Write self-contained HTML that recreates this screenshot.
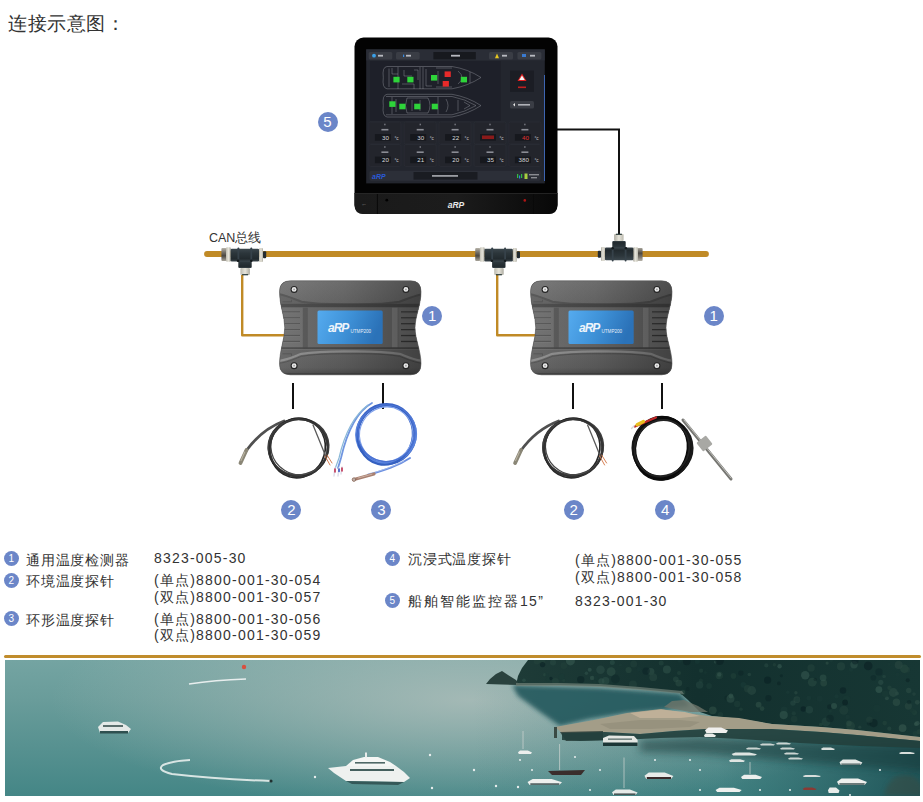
<!DOCTYPE html>
<html><head><meta charset="utf-8">
<style>
html,body{margin:0;padding:0;background:#fff;}
body{width:923px;height:802px;overflow:hidden;position:relative;font-family:"Liberation Sans",sans-serif;color:#333;}
.abs{position:absolute;}
.title{left:8px;top:11px;font-size:19px;color:#333;white-space:nowrap;letter-spacing:0.5px;}
.num{position:absolute;width:20px;height:20px;border-radius:50%;background:#6b86c8;color:#fff;font-size:15px;line-height:20px;text-align:center;}
.lg{position:absolute;font-size:14px;color:#333;white-space:nowrap;line-height:17px;}
.cj{letter-spacing:0.8px;}
.dg{letter-spacing:1.2px;}
.ln{position:absolute;width:15px;height:15px;border-radius:50%;background:#6b86c8;color:#fff;font-size:10px;line-height:15px;text-align:center;}
</style></head><body>
<div class="abs title">连接示意图：</div>

<!-- diagram svg -->
<svg class="abs" style="left:0;top:0" width="923" height="660" viewBox="0 0 923 660">
  <!-- monitor link -->
  <polyline points="557,129.5 619,129.5 619,236" fill="none" stroke="#111" stroke-width="2"/>
  <!-- bus -->
  <line x1="207" y1="254" x2="706" y2="254" stroke="#c08a26" stroke-width="5.8" stroke-linecap="round"/>
  <!-- gold drops -->
  <polyline points="242.2,272 242.2,335.3 287,335.3" fill="none" stroke="#c08a26" stroke-width="2.4" stroke-linejoin="round"/>
  <polyline points="497.2,272 497.2,335.3 538,335.3" fill="none" stroke="#c08a26" stroke-width="2.4" stroke-linejoin="round"/>
  <defs>
    <linearGradient id="tbody" x1="0" y1="0" x2="0" y2="1">
      <stop offset="0" stop-color="#3c474d"/><stop offset="0.35" stop-color="#2c363b"/><stop offset="0.8" stop-color="#222a2e"/><stop offset="1" stop-color="#39444a"/>
    </linearGradient>
    <linearGradient id="tring" x1="0" y1="0" x2="1" y2="0">
      <stop offset="0" stop-color="#bdbbb0"/><stop offset="0.5" stop-color="#e6e4da"/><stop offset="1" stop-color="#aeaca2"/>
    </linearGradient>
    <linearGradient id="tnut" x1="0" y1="0" x2="0" y2="1">
      <stop offset="0" stop-color="#b8b4aa"/><stop offset="0.3" stop-color="#7a766e"/><stop offset="0.6" stop-color="#4a4640"/><stop offset="1" stop-color="#a8a49a"/>
    </linearGradient>
    <g id="tconn">
      <rect x="-23.7" y="-6.5" width="5" height="13" rx="1" fill="url(#tnut)"/>
      <rect x="-19.1" y="-7.2" width="4.9" height="14.5" rx="1.2" fill="url(#tring)"/>
      <rect x="-6.8" y="5" width="13.4" height="8.6" rx="1" fill="url(#tbody)"/>
      <rect x="-14.5" y="-5.8" width="28.5" height="12.7" rx="1.2" fill="url(#tbody)"/>
      <rect x="-7.6" y="-7" width="1.8" height="14" rx="0.8" fill="#36424a"/>
      <rect x="5.3" y="-7" width="1.8" height="14" rx="0.8" fill="#36424a"/>
      <circle cx="-7" cy="6.2" r="1.3" fill="#141a1d"/>
      <circle cx="6.2" cy="6.2" r="1.3" fill="#141a1d"/>
      <rect x="-4.7" y="13.6" width="9.5" height="7" rx="1" fill="url(#tring)"/>
      <rect x="-3" y="19.6" width="6" height="1.2" fill="#2a3a38"/>
      <rect x="14" y="-6.5" width="3.9" height="14" rx="1" fill="url(#tring)"/>
      <rect x="17.9" y="-3.3" width="3.2" height="7" rx="1" fill="#232b30"/>
    </g>
  </defs>
  <use href="#tconn" x="245.1" y="254.5"/>
  <use href="#tconn" x="498.9" y="254.5"/>
  <use href="#tconn" transform="translate(618.9 254.5) rotate(180)"/>
  <!-- black short lines -->
  <line x1="293" y1="383" x2="293" y2="409" stroke="#111" stroke-width="2"/>
  <line x1="383" y1="383" x2="383" y2="409" stroke="#111" stroke-width="2"/>
  <line x1="573" y1="383" x2="573" y2="409" stroke="#111" stroke-width="2"/>
  <line x1="662" y1="383" x2="662" y2="409" stroke="#111" stroke-width="2"/>
</svg>

<!-- monitor -->
<svg class="abs" style="left:350px;top:33px" width="212" height="185" viewBox="350 33 212 185">
  <defs>
    <linearGradient id="bez" x1="0" y1="0" x2="1" y2="0">
      <stop offset="0" stop-color="#1a1a1a"/><stop offset="0.5" stop-color="#1c1c1c"/><stop offset="1" stop-color="#080808"/>
    </linearGradient>
  </defs>
  <rect x="354.5" y="37.5" width="203" height="176.5" rx="9" fill="#030303"/>
  <path d="M354.5,193 L557.5,193 L557.5,205 Q557.5,214 548.5,214 L363.5,214 Q354.5,214 354.5,205 Z" fill="url(#bez)"/>
  <line x1="354.5" y1="193.5" x2="557.5" y2="193.5" stroke="#2a2a2a" stroke-width="0.8"/>
  <line x1="377.4" y1="194" x2="377.4" y2="214" stroke="#050505" stroke-width="0.8"/>
  <line x1="533.5" y1="194" x2="533.5" y2="214" stroke="#070707" stroke-width="0.6"/>
  <circle cx="386.8" cy="200.2" r="1.4" fill="#000"/>
  <circle cx="524.8" cy="200.4" r="1.3" fill="#b01414"/>
  <text x="362" y="206" font-size="5" fill="#555" font-family="Liberation Sans">⭠</text>
  <text x="456" y="207.5" font-size="8.5" font-style="italic" font-weight="bold" fill="#e8e8e8" text-anchor="middle" font-family="Liberation Sans">aRP</text>
  <!-- screen -->
  <rect x="366.2" y="49.4" width="178.6" height="134" fill="#23262e"/>
  <rect x="544" y="75" width="1" height="106" fill="#3d64b0"/>
  <!-- top bar -->
  <rect x="366.2" y="49.4" width="178.6" height="11" fill="#2a2d36"/>
  <rect x="368.7" y="52" width="23.6" height="7.4" rx="1.5" fill="#3a3d45"/>
  <circle cx="374" cy="55.7" r="1.9" fill="#3aa0e8"/>
  <rect x="378" y="54.8" width="5" height="1.8" fill="#b8bac0"/>
  <rect x="396" y="52" width="23.7" height="7.4" rx="1.5" fill="#3a3d45"/>
  <rect x="403" y="54.6" width="1.2" height="2.4" fill="#3a8ae0"/>
  <rect x="406" y="54.8" width="5" height="1.8" fill="#b8bac0"/>
  <rect x="433.4" y="52" width="42.4" height="7.4" fill="#17191e"/>
  <rect x="451" y="54.8" width="9" height="1.8" fill="#b8bac0"/>
  <rect x="489" y="52" width="24" height="7.4" rx="1.5" fill="#3a3d45"/>
  <polygon points="495,58.3 497,53.5 499,58.3" fill="#e8c820"/>
  <rect x="502" y="54.8" width="5" height="1.8" fill="#b8bac0"/>
  <rect x="517.4" y="52" width="24" height="7.4" rx="1.5" fill="#3a3d45"/>
  <rect x="522" y="54" width="4" height="3" fill="#3a7ad0"/>
  <rect x="530" y="54.8" width="5" height="1.8" fill="#b8bac0"/>
  <!-- ship plan area -->
  <rect x="370" y="61" width="130.7" height="60" fill="#1e2029"/>
  <g fill="none" stroke="#b4b8c0" stroke-width="0.38" opacity="0.9">
    <path d="M387,66.5 L452,66.5 Q468,69 481,77.5 Q468,86 452,88.8 L387,88.8 Q382,88 383.3,77.5 Q382,67 387,66.5 Z"/>
    <path d="M389,68.5 L389,87 M392,68 L392,74 L398,74 M398,67 L398,89 M404,70 L404,76 L412,76 M402,84 L414,84 L414,89 M420,67 L420,89 M423,67 L423,89 M426,69 L426,86 L432,86 M436,68 L452,68 M436,87 L452,87 M438,71 L438,84 M458,71 Q466,77.5 458,84 M470,72 L470,83 M414,70 L418,70 L418,80"/>
    <path d="M387,94.3 L452,94.3 Q468,97 481,105.6 Q468,114 452,117 L387,117 Q382,116 383.3,105.6 Q382,95 387,94.3 Z"/>
    <path d="M386,96.5 L452,96.5 Q465,99 476,105.6 Q465,112 452,114.8 L386,114.8 M392,97 L392,114 M396,99 L396,112 M407,98 L428,98 Q432,105.6 428,113 L407,113 Q404,105.6 407,98 Z M412,100 L412,111 M420,100 L420,111 M438,97 L438,114 M446,99 Q450,105.6 446,112 M458,100 L458,111 M464,102 L470,105.6 L464,109"/>
  </g>
  <g fill="#2ed43a">
    <rect x="393.4" y="76.8" width="6.2" height="5.6"/>
    <rect x="407.3" y="76.8" width="6.2" height="5.6"/>
    <rect x="431" y="75" width="6.2" height="5.6"/>
    <rect x="460.8" y="76.8" width="6.2" height="5.6"/>
    <rect x="389.3" y="101.3" width="6.2" height="5.6"/>
    <rect x="399.3" y="103.7" width="6.2" height="5.6"/>
    <rect x="414.2" y="103.7" width="6.2" height="5.6"/>
    <rect x="431.7" y="103.7" width="6.2" height="5.6"/>
  </g>
  <g fill="#e82a2a">
    <rect x="444.6" y="71.4" width="6.2" height="5.6"/>
    <rect x="442.7" y="81" width="6.2" height="5.6"/>
  </g>
  <!-- right panel -->
  <rect x="510" y="70.6" width="24" height="21.2" fill="#1b1d24"/>
  <polygon points="522,73.5 526.5,81 517.5,81" fill="#e02020"/>
  <polygon points="522,75.5 524.8,80 519.2,80" fill="#f4f4f4"/>
  <rect x="518" y="86.5" width="8" height="1.6" fill="#c02020"/>
  <rect x="510" y="101" width="24" height="7.5" rx="1.5" fill="#3a3d45"/>
  <polygon points="513,104.7 515,103 515,106.5" fill="#e8e8e8"/>
  <rect x="518" y="104" width="12" height="1.6" fill="#b0b2b8"/>
  <!-- data cells -->
  <rect x="368.9" y="122.0" width="32" height="22" rx="1.5" fill="#23252c" stroke="#2e3038" stroke-width="0.5"/><rect x="384.4" y="123.7" width="1" height="1.6" fill="#9a9ca4"/><rect x="381.4" y="128.9" width="7" height="1.6" fill="#8a8c94"/><rect x="374.9" y="134.1" width="16" height="6.6" fill="#16181d"/><text x="388.9" y="139.9" font-size="6.2" fill="#d8d8dc" text-anchor="end" font-family="Liberation Sans">30</text><text x="394.4" y="139.7" font-size="4.6" fill="#c8c8cc" font-family="Liberation Sans">°c</text><rect x="404.2" y="122.0" width="32" height="22" rx="1.5" fill="#23252c" stroke="#2e3038" stroke-width="0.5"/><rect x="419.7" y="123.7" width="1" height="1.6" fill="#9a9ca4"/><rect x="416.7" y="128.9" width="7" height="1.6" fill="#8a8c94"/><rect x="410.2" y="134.1" width="16" height="6.6" fill="#16181d"/><text x="424.2" y="139.9" font-size="6.2" fill="#d8d8dc" text-anchor="end" font-family="Liberation Sans">30</text><text x="429.7" y="139.7" font-size="4.6" fill="#c8c8cc" font-family="Liberation Sans">°c</text><rect x="439.1" y="122.0" width="32" height="22" rx="1.5" fill="#23252c" stroke="#2e3038" stroke-width="0.5"/><rect x="454.6" y="123.7" width="1" height="1.6" fill="#9a9ca4"/><rect x="451.6" y="128.9" width="7" height="1.6" fill="#8a8c94"/><rect x="445.1" y="134.1" width="16" height="6.6" fill="#16181d"/><text x="459.1" y="139.9" font-size="6.2" fill="#d8d8dc" text-anchor="end" font-family="Liberation Sans">22</text><text x="464.6" y="139.7" font-size="4.6" fill="#c8c8cc" font-family="Liberation Sans">°c</text><rect x="474.0" y="122.0" width="32" height="22" rx="1.5" fill="#23252c" stroke="#2e3038" stroke-width="0.5"/><rect x="489.5" y="123.7" width="1" height="1.6" fill="#9a9ca4"/><rect x="486.5" y="128.9" width="7" height="1.6" fill="#8a8c94"/><rect x="480.0" y="134.1" width="16" height="6.6" fill="#16181d"/><rect x="482.0" y="135.5" width="12" height="3.6" fill="#8a1a1a"/><text x="499.5" y="139.7" font-size="4.6" fill="#c8c8cc" font-family="Liberation Sans">°c</text><rect x="508.9" y="122.0" width="32" height="22" rx="1.5" fill="#23252c" stroke="#2e3038" stroke-width="0.5"/><rect x="524.4" y="123.7" width="1" height="1.6" fill="#9a9ca4"/><rect x="521.4" y="128.9" width="7" height="1.6" fill="#8a8c94"/><rect x="514.9" y="134.1" width="16" height="6.6" fill="#16181d"/><text x="528.9" y="139.9" font-size="6.2" fill="#e03030" text-anchor="end" font-family="Liberation Sans">40</text><text x="534.4" y="139.7" font-size="4.6" fill="#c8c8cc" font-family="Liberation Sans">°c</text><rect x="368.9" y="144.5" width="32" height="22" rx="1.5" fill="#23252c" stroke="#2e3038" stroke-width="0.5"/><rect x="384.4" y="146.2" width="1" height="1.6" fill="#9a9ca4"/><rect x="381.4" y="151.4" width="7" height="1.6" fill="#8a8c94"/><rect x="374.9" y="156.6" width="16" height="6.6" fill="#16181d"/><text x="388.9" y="162.4" font-size="6.2" fill="#d8d8dc" text-anchor="end" font-family="Liberation Sans">20</text><text x="394.4" y="162.2" font-size="4.6" fill="#c8c8cc" font-family="Liberation Sans">°c</text><rect x="404.2" y="144.5" width="32" height="22" rx="1.5" fill="#23252c" stroke="#2e3038" stroke-width="0.5"/><rect x="419.7" y="146.2" width="1" height="1.6" fill="#9a9ca4"/><rect x="416.7" y="151.4" width="7" height="1.6" fill="#8a8c94"/><rect x="410.2" y="156.6" width="16" height="6.6" fill="#16181d"/><text x="424.2" y="162.4" font-size="6.2" fill="#d8d8dc" text-anchor="end" font-family="Liberation Sans">21</text><text x="429.7" y="162.2" font-size="4.6" fill="#c8c8cc" font-family="Liberation Sans">°c</text><rect x="439.1" y="144.5" width="32" height="22" rx="1.5" fill="#23252c" stroke="#2e3038" stroke-width="0.5"/><rect x="454.6" y="146.2" width="1" height="1.6" fill="#9a9ca4"/><rect x="451.6" y="151.4" width="7" height="1.6" fill="#8a8c94"/><rect x="445.1" y="156.6" width="16" height="6.6" fill="#16181d"/><text x="459.1" y="162.4" font-size="6.2" fill="#d8d8dc" text-anchor="end" font-family="Liberation Sans">20</text><text x="464.6" y="162.2" font-size="4.6" fill="#c8c8cc" font-family="Liberation Sans">°c</text><rect x="474.0" y="144.5" width="32" height="22" rx="1.5" fill="#23252c" stroke="#2e3038" stroke-width="0.5"/><rect x="489.5" y="146.2" width="1" height="1.6" fill="#9a9ca4"/><rect x="486.5" y="151.4" width="7" height="1.6" fill="#8a8c94"/><rect x="480.0" y="156.6" width="16" height="6.6" fill="#16181d"/><text x="494.0" y="162.4" font-size="6.2" fill="#d8d8dc" text-anchor="end" font-family="Liberation Sans">35</text><text x="499.5" y="162.2" font-size="4.6" fill="#c8c8cc" font-family="Liberation Sans">°c</text><rect x="508.9" y="144.5" width="32" height="22" rx="1.5" fill="#23252c" stroke="#2e3038" stroke-width="0.5"/><rect x="524.4" y="146.2" width="1" height="1.6" fill="#9a9ca4"/><rect x="521.4" y="151.4" width="7" height="1.6" fill="#8a8c94"/><rect x="514.9" y="156.6" width="16" height="6.6" fill="#16181d"/><text x="528.9" y="162.4" font-size="6.2" fill="#d8d8dc" text-anchor="end" font-family="Liberation Sans">380</text><text x="534.4" y="162.2" font-size="4.6" fill="#c8c8cc" font-family="Liberation Sans">°c</text>
  <!-- bottom bar -->
  <rect x="369.4" y="170.8" width="171.2" height="10" rx="2" fill="#2c2f38"/>
  <text x="372" y="179" font-size="7" font-style="italic" font-weight="bold" fill="#2a5ad8" font-family="Liberation Sans">aRP</text>
  <rect x="413.5" y="172" width="64" height="7.6" fill="#1a1c22"/>
  <rect x="432" y="175" width="26" height="1.8" fill="#9a9ca2"/>
  <rect x="517" y="174" width="1.2" height="4" fill="#30c040"/>
  <rect x="519" y="175.5" width="1.2" height="3" fill="#3080e0"/>
  <rect x="521" y="174" width="1.2" height="4" fill="#30c040"/>
  <rect x="524.5" y="173.5" width="3" height="5.5" fill="#a8d040"/>
  <rect x="529" y="174" width="10" height="1.4" fill="#8a8c92"/>
  <rect x="531" y="177" width="6" height="1.4" fill="#8a8c92"/>
</svg>
<!-- modules -->
<svg class="abs" style="left:0;top:270px" width="923" height="115" viewBox="0 270 923 115">
  <defs>
    <linearGradient id="mtop" x1="0" y1="0" x2="0" y2="1">
      <stop offset="0" stop-color="#727272"/><stop offset="1" stop-color="#636363"/>
    </linearGradient>
    <linearGradient id="mbot" x1="0" y1="0" x2="0" y2="1">
      <stop offset="0" stop-color="#646464"/><stop offset="0.7" stop-color="#5c5c5c"/><stop offset="1" stop-color="#474747"/>
    </linearGradient>
    <linearGradient id="mshade" x1="0" y1="0" x2="1" y2="0">
      <stop offset="0" stop-color="#fff" stop-opacity="0.06"/><stop offset="0.45" stop-color="#000" stop-opacity="0.05"/><stop offset="1" stop-color="#000" stop-opacity="0.32"/>
    </linearGradient>
    <linearGradient id="mdisp" x1="0" y1="0" x2="1" y2="0.2">
      <stop offset="0" stop-color="#55abef"/><stop offset="0.5" stop-color="#3f92d8"/><stop offset="1" stop-color="#2b72b8"/>
    </linearGradient>
    <clipPath id="mclip"><path d="M11,0 L131,0 Q141.5,0 141.5,11 C141.5,24 135.5,36 135.5,47 C135.5,58 141.5,70 141.5,83 Q141.5,94 131,94 L11,94 Q0,94 0,83 C0,70 5.3,58 5.3,47 C5.3,36 0,24 0,11 Q0,0 11,0 Z"/></clipPath>
    <g id="module">
      <path d="M11,0 L131,0 Q141.5,0 141.5,11 C141.5,24 135.5,36 135.5,47 C135.5,58 141.5,70 141.5,83 Q141.5,94 131,94 L11,94 Q0,94 0,83 C0,70 5.3,58 5.3,47 C5.3,36 0,24 0,11 Q0,0 11,0 Z" fill="#606060"/>
      <g clip-path="url(#mclip)">
        <rect x="0" y="0" width="142" height="30" fill="url(#mtop)"/>
        <!-- middle band -->
        <rect x="0" y="24" width="142" height="45" fill="#6b6b6b"/>
        <rect x="3" y="30.5" width="17.5" height="1.2" fill="#505050"/><rect x="3" y="31.7" width="17.5" height="0.7" fill="#7a7a7a" opacity="0.6"/><rect x="3" y="36.4" width="17.5" height="1.2" fill="#505050"/><rect x="3" y="37.6" width="17.5" height="0.7" fill="#7a7a7a" opacity="0.6"/><rect x="3" y="42.3" width="17.5" height="1.2" fill="#505050"/><rect x="3" y="43.5" width="17.5" height="0.7" fill="#7a7a7a" opacity="0.6"/><rect x="3" y="48.2" width="17.5" height="1.2" fill="#505050"/><rect x="3" y="49.4" width="17.5" height="0.7" fill="#7a7a7a" opacity="0.6"/><rect x="3" y="54.1" width="17.5" height="1.2" fill="#505050"/><rect x="3" y="55.3" width="17.5" height="0.7" fill="#7a7a7a" opacity="0.6"/><rect x="3" y="60.0" width="17.5" height="1.2" fill="#505050"/><rect x="3" y="61.2" width="17.5" height="0.7" fill="#7a7a7a" opacity="0.6"/>
        <rect x="121.5" y="30.5" width="17.5" height="1.2" fill="#383838"/><rect x="121.5" y="31.7" width="17.5" height="0.7" fill="#5a5a5a" opacity="0.6"/><rect x="121.5" y="36.4" width="17.5" height="1.2" fill="#383838"/><rect x="121.5" y="37.6" width="17.5" height="0.7" fill="#5a5a5a" opacity="0.6"/><rect x="121.5" y="42.3" width="17.5" height="1.2" fill="#383838"/><rect x="121.5" y="43.5" width="17.5" height="0.7" fill="#5a5a5a" opacity="0.6"/><rect x="121.5" y="48.2" width="17.5" height="1.2" fill="#383838"/><rect x="121.5" y="49.4" width="17.5" height="0.7" fill="#5a5a5a" opacity="0.6"/><rect x="121.5" y="54.1" width="17.5" height="1.2" fill="#383838"/><rect x="121.5" y="55.3" width="17.5" height="0.7" fill="#5a5a5a" opacity="0.6"/><rect x="121.5" y="60.0" width="17.5" height="1.2" fill="#383838"/><rect x="121.5" y="61.2" width="17.5" height="0.7" fill="#5a5a5a" opacity="0.6"/>
        <rect x="22.5" y="25.5" width="97" height="43" fill="#666"/>
        <rect x="23.5" y="26" width="4.8" height="42" fill="#555"/>
        <rect x="112.5" y="26" width="5.5" height="42" fill="#8a8a8a" opacity="0.55"/>
        <!-- top chamfer -->
        <path d="M0,14 C8,15 14,18 22,21 C40,24 60,23.5 71,23.5 C82,23.5 102,24 120,21 C128,18 134,15 142,14 L142,27 L0,27 Z" fill="#5e5e5e"/>
        <path d="M0,13.5 C8,15 14,18 22,21 C40,24 60,23.5 71,23.5 C82,23.5 102,24 120,21 C128,18 134,15 142,13.5" fill="none" stroke="#505050" stroke-width="2"/>
        <rect x="0" y="23" width="142" height="3.2" fill="#464646"/>
        <path d="M3,21 L12,21 L12,19" fill="none" stroke="#4a4a4a" stroke-width="0.8"/>
        <!-- bottom -->
        <path d="M0,80 C8,79 14,76 22,73 C40,70 60,70.5 71,70.5 C82,70.5 102,70 120,73 C128,76 134,79 142,80 L142,94 L0,94 Z" fill="url(#mbot)"/>
        <rect x="0" y="66.5" width="142" height="1.6" fill="#444"/>
        <path d="M0,80 C8,79 14,76 22,73 C40,70 60,70.5 71,70.5 C82,70.5 102,70 120,73 C128,76 134,79 142,80" fill="none" stroke="#8a8a8a" stroke-width="2.2"/>
        <path d="M0,82.5 C8,81.5 14,78.5 22,75.5 C40,72.5 60,73 71,73 C82,73 102,72.5 120,75.5 C128,78.5 134,81.5 142,82.5" fill="none" stroke="#4e4e4e" stroke-width="1"/>
        <path d="M3,73 L12,73 L12,75" fill="none" stroke="#4a4a4a" stroke-width="0.8"/>
        <rect x="0" y="0" width="142" height="94" fill="url(#mshade)"/>
        <rect x="0" y="92.6" width="142" height="1.4" fill="#2e2e2e" opacity="0.7"/>
      </g>
      <path d="M11,0 L131,0 Q141.5,0 141.5,11 C141.5,24 135.5,36 135.5,47 C135.5,58 141.5,70 141.5,83 Q141.5,94 131,94 L11,94 Q0,94 0,83 C0,70 5.3,58 5.3,47 C5.3,36 0,24 0,11 Q0,0 11,0 Z" fill="none" stroke="#555" stroke-width="0.6"/>
      <!-- display -->
      <rect x="38" y="29.8" width="65.2" height="33.5" rx="1.5" fill="url(#mdisp)"/>
      <text x="48.5" y="51.6" font-size="12" font-style="italic" font-weight="bold" fill="#eef4fa" font-family="Liberation Sans" letter-spacing="-1">aRP</text>
      <text x="71" y="52.4" font-size="5.6" fill="#e6eef8" font-family="Liberation Sans" transform="translate(71 52.4) scale(0.82 1) translate(-71 -52.4)">UTMP200</text>
      <!-- screws -->
      <g id="screw"><circle cx="14.6" cy="8.6" r="3.5" fill="#262626"/><circle cx="14.6" cy="8.6" r="2.4" fill="#e8e8e8"/><circle cx="14.6" cy="8.6" r="0.9" fill="#a0a0a0"/></g>
      <use href="#screw" x="111.8" y="0"/>
      <use href="#screw" x="0" y="76.3"/>
      <use href="#screw" x="111.8" y="76.3"/>
    </g>
  </defs>
  <use href="#module" x="279.5" y="280.8"/>
  <use href="#module" x="530.5" y="280.8"/>
</svg>
<!-- cables -->
<svg class="abs" style="left:220px;top:395px" width="530" height="95" viewBox="220 395 530 95">
  <g id="c2" fill="none" stroke-linecap="round">
    <path d="M284,421 C268,427 256,437 246,451" stroke="#505050" stroke-width="2.8"/>
    <path d="M246.5,450 L240.5,463" stroke="#8a8676" stroke-width="3.8"/>
    <path d="M244.8,452 L241,460.5" stroke="#b8b2a0" stroke-width="1.1"/>
    <ellipse cx="298.3" cy="447.5" rx="29.8" ry="28.6" stroke="#2c2c2c" stroke-width="2"/>
    <ellipse cx="298.6" cy="447" rx="30.2" ry="28" stroke="#3e3e3e" stroke-width="1.7" transform="rotate(-14 298 447)"/>
    <ellipse cx="297.8" cy="448" rx="27.6" ry="30" stroke="#262626" stroke-width="1.7" transform="rotate(16 298 447)"/>
    <ellipse cx="298.8" cy="446.5" rx="28.4" ry="27.4" stroke="#474747" stroke-width="1.3" transform="rotate(32 298 447)"/>
    <ellipse cx="298" cy="448.5" rx="29" ry="28.5" stroke="#333" stroke-width="1.5" transform="rotate(-36 298 447)"/>
    <path d="M313,425 C318,437 322,447 326,457" stroke="#5a5a5a" stroke-width="1.3"/>
    <path d="M325,456 L330,465 M327,455 L332,463" stroke="#d07040" stroke-width="0.9"/>
  </g>
  <use href="#c2" x="274.6" y="0"/>
  <!-- blue cable -->
  <g fill="none" stroke-linecap="round">
    <path d="M372,403 C356,412 347,432 341,458 L338,468" stroke="#7096e0" stroke-width="1.8"/>
    <path d="M368,405 C353,416 344,436 339,458 L335,469" stroke="#8ab8d8" stroke-width="1.2"/>
    <ellipse cx="386.3" cy="434.1" rx="29" ry="29.5" stroke="#3b64c6" stroke-width="3"/>
    <ellipse cx="386" cy="434.5" rx="30" ry="28.5" stroke="#5a84de" stroke-width="2" transform="rotate(-12 386 434)"/>
    <ellipse cx="385.5" cy="435" rx="27.5" ry="30" stroke="#3460c0" stroke-width="2.2" transform="rotate(14 386 434)"/>
    <ellipse cx="386.3" cy="434.1" rx="26.5" ry="27.5" stroke="#7fa0ea" stroke-width="1.1" transform="rotate(30 386 434)"/>
    <ellipse cx="386.8" cy="433.6" rx="28.6" ry="28.2" stroke="#4a72d2" stroke-width="1.4" transform="rotate(-34 386 434)"/>
    <path d="M410,458 C398,466 385,470 368,475" stroke="#6a8ee0" stroke-width="2"/>
    <path d="M404,461 C392,467 381,471 368,474" stroke="#a6bcec" stroke-width="0.9"/>
    <path d="M354,479.5 L374,474" stroke="#a88070" stroke-width="3.2"/><path d="M358,478 L372,474.2" stroke="#d0b4a8" stroke-width="0.9"/>
    <circle cx="354" cy="479.6" r="1.8" fill="#c0b0a8" stroke="#8a6a5a" stroke-width="0.8"/>
    <path d="M335,468 L334,476 M339,468 L338,476 M342,467 L341,474" stroke="#e0e0ec" stroke-width="1.6"/>
    <path d="M335,469 L335,472 M342,468 L342,471" stroke="#c03050" stroke-width="1.6"/>
    <path d="M339,469 L339,471.5" stroke="#3050c0" stroke-width="1.6"/>
  </g>
  <!-- cable 4 -->
  <g fill="none" stroke-linecap="round">
    <path d="M683,420 L731,479" stroke="#767672" stroke-width="3"/>
    <path d="M684,420 L731,478" stroke="#c8c8c4" stroke-width="0.9"/>
    <rect x="698.5" y="438" width="12" height="11" rx="1" fill="#a8a8a4" transform="rotate(-38 704.5 443.5)"/>
    <ellipse cx="662" cy="448.2" rx="28" ry="30.5" stroke="#0e0e0e" stroke-width="4"/>
    <ellipse cx="662.5" cy="448" rx="29.5" ry="29.5" stroke="#181818" stroke-width="3" transform="rotate(-12 662 448)"/>
    <ellipse cx="661.5" cy="448.5" rx="26.5" ry="31" stroke="#0a0a0a" stroke-width="3" transform="rotate(14 662 448)"/>
    <ellipse cx="662" cy="448.2" rx="27" ry="28.5" stroke="#222" stroke-width="2" transform="rotate(34 662 448)"/>
    <path d="M656,417.5 L635,426.5" stroke="#c02828" stroke-width="2.2"/>
    <path d="M643.5,421.5 L637,424.8" stroke="#e8c020" stroke-width="3.2"/>
    <path d="M634,426 L631.5,428.5" stroke="#d8d8d8" stroke-width="1.4"/>
  </g>
</svg>
<div class="num" style="left:317.5px;top:111.5px;">5</div>
<div class="num" style="left:422.2px;top:306px;">1</div>
<div class="num" style="left:703.6px;top:306.2px;">1</div>
<div class="num" style="left:281.4px;top:500.4px;">2</div>
<div class="num" style="left:371.3px;top:500.4px;">3</div>
<div class="num" style="left:563.7px;top:500.4px;">2</div>
<div class="num" style="left:655.2px;top:500.4px;">4</div>

<div class="abs" style="left:209px;top:229.5px;font-size:12.5px;color:#333;">CAN总线</div>

<!-- legend -->
<div class="ln" style="left:3.7px;top:551.2px;">1</div>
<div class="ln" style="left:3.7px;top:572.6px;">2</div>
<div class="ln" style="left:3.7px;top:611.3px;">3</div>
<div class="ln" style="left:384.7px;top:551.2px;">4</div>
<div class="ln" style="left:384.7px;top:593.2px;">5</div>
<div class="lg cj" style="left:26px;top:551.5px;">通用温度检测器</div>
<div class="lg cj" style="left:26px;top:573px;">环境温度探针</div>
<div class="lg cj" style="left:26px;top:612px;">环形温度探针</div>
<div class="lg dg" style="left:154px;top:550px;">8323-005-30</div>
<div class="lg dg" style="left:154px;top:572px;">(单点)8800-001-30-054</div>
<div class="lg dg" style="left:154px;top:589px;">(双点)8800-001-30-057</div>
<div class="lg dg" style="left:154px;top:611px;">(单点)8800-001-30-056</div>
<div class="lg dg" style="left:154px;top:627px;">(双点)8800-001-30-059</div>
<div class="lg cj" style="left:408px;top:551px;">沉浸式温度探针</div>
<div class="lg dg" style="left:575px;top:552px;">(单点)8800-001-30-055</div>
<div class="lg dg" style="left:575px;top:569px;">(双点)8800-001-30-058</div>
<div class="lg cj" style="left:408px;top:593px;letter-spacing:2px;">船舶智能监控器<span style="letter-spacing:1.3px">15”</span></div>
<div class="lg dg" style="left:575px;top:593px;">8323-001-30</div>

<!-- separator & photo -->
<div class="abs" style="left:4px;top:655px;width:917px;height:3px;background:#c08c2c;border-radius:2px;"></div>
<svg class="abs" style="left:5px;top:660px" width="915" height="136" viewBox="5 660 915 136">
  <defs>
    <linearGradient id="wv" x1="0" y1="0" x2="0" y2="1">
      <stop offset="0" stop-color="#74a4a2"/>
      <stop offset="0.3" stop-color="#699c9a"/>
      <stop offset="1" stop-color="#448686"/>
    </linearGradient>
    <radialGradient id="haze" cx="470" cy="700" r="420" gradientUnits="userSpaceOnUse" gradientTransform="translate(470 700) scale(1 0.262) translate(-470 -700)">
      <stop offset="0" stop-color="#b2c0bc" stop-opacity="0.8"/>
      <stop offset="1" stop-color="#b2c0bc" stop-opacity="0"/>
    </radialGradient>
    <linearGradient id="hw" x1="0" y1="0" x2="1" y2="0">
      <stop offset="0" stop-color="#1f5a5e" stop-opacity="0"/>
      <stop offset="0.55" stop-color="#1f5a5e" stop-opacity="0.15"/>
      <stop offset="1" stop-color="#16484c" stop-opacity="0.8"/>
    </linearGradient>
    <filter id="blur4" x="-20%" y="-50%" width="140%" height="200%"><feGaussianBlur stdDeviation="4"/></filter><filter id="blur2" x="-20%" y="-20%" width="140%" height="140%"><feGaussianBlur stdDeviation="2"/></filter>
    <linearGradient id="hsh" x1="0" y1="0" x2="0" y2="1">
      <stop offset="0" stop-color="#0f3434" stop-opacity="0.75"/>
      <stop offset="1" stop-color="#0f3434" stop-opacity="0"/>
    </linearGradient>
    <linearGradient id="hill" x1="0" y1="0" x2="1" y2="0">
      <stop offset="0" stop-color="#1e3b37"/>
      <stop offset="0.45" stop-color="#13302e"/>
      <stop offset="1" stop-color="#173734"/>
    </linearGradient>
  </defs>
  <rect x="5" y="660" width="915" height="136" fill="url(#wv)"/>
  <rect x="5" y="660" width="915" height="136" fill="url(#haze)"/>
  <rect x="470" y="690" width="450" height="106" fill="url(#hw)"/>
  <polygon points="640,740 700,737 800,742 930,746 930,772 800,762 700,754 640,752" fill="#123838" opacity="0.55" filter="url(#blur4)"/>
  <!-- inlet dark water -->
  <polygon points="512,685 600,688 680,694 690,706 662,710 626,713 589,719 560,726 540,712 518,696" fill="#1c5258" opacity="0.85" filter="url(#blur2)"/>
  <!-- hill -->
  <polygon points="528,660 920,660 920,737 857,730 821,727 772,724 741,719 712,716 700,712 688,700 680,693 640,689 600,686 560,685 516,685 518,676 522,668" fill="url(#hill)"/>
  <g><circle cx="650.9" cy="671.6" r="3.5" fill="#2a4a42" opacity="0.72"/><circle cx="884.1" cy="676.5" r="1.8" fill="#30524a" opacity="0.38"/><circle cx="851.1" cy="669.5" r="2.2" fill="#1a3a36" opacity="0.78"/><circle cx="751.7" cy="690.5" r="4.4" fill="#2a4a42" opacity="0.60"/><circle cx="737.2" cy="704.0" r="3.2" fill="#24443c" opacity="0.40"/><circle cx="749.3" cy="674.5" r="1.8" fill="#2a4a42" opacity="0.60"/><circle cx="768.4" cy="698.2" r="3.1" fill="#0c2426" opacity="0.56"/><circle cx="889.5" cy="687.8" r="2.2" fill="#24443c" opacity="0.66"/><circle cx="812.3" cy="682.2" r="4.4" fill="#2a4a42" opacity="0.58"/><circle cx="893.4" cy="692.5" r="4.4" fill="#2a4a42" opacity="0.69"/><circle cx="758.6" cy="704.7" r="2.9" fill="#2a4a42" opacity="0.78"/><circle cx="710.7" cy="711.1" r="1.7" fill="#0c2426" opacity="0.64"/><circle cx="917.3" cy="723.3" r="2.4" fill="#30524a" opacity="0.75"/><circle cx="718.5" cy="676.8" r="2.4" fill="#24443c" opacity="0.53"/><circle cx="886.9" cy="698.2" r="2.0" fill="#30524a" opacity="0.60"/><circle cx="873.6" cy="723.1" r="4.1" fill="#0c2426" opacity="0.67"/><circle cx="914.6" cy="712.6" r="2.6" fill="#24443c" opacity="0.42"/><circle cx="592.1" cy="677.9" r="2.2" fill="#30524a" opacity="0.72"/><circle cx="594.6" cy="681.7" r="1.9" fill="#1a3a36" opacity="0.52"/><circle cx="796.8" cy="699.7" r="3.4" fill="#2a4a42" opacity="0.56"/><circle cx="792.9" cy="703.1" r="2.7" fill="#30524a" opacity="0.40"/><circle cx="774.4" cy="664.8" r="1.7" fill="#24443c" opacity="0.55"/><circle cx="766.3" cy="665.4" r="2.1" fill="#30524a" opacity="0.42"/><circle cx="666.9" cy="669.5" r="4.0" fill="#30524a" opacity="0.57"/><circle cx="646.1" cy="671.1" r="3.7" fill="#0c2426" opacity="0.57"/><circle cx="797.4" cy="699.8" r="2.1" fill="#1a3a36" opacity="0.51"/><circle cx="823.7" cy="683.0" r="3.4" fill="#2a4a42" opacity="0.66"/><circle cx="653.2" cy="677.2" r="3.9" fill="#24443c" opacity="0.71"/><circle cx="847.7" cy="717.0" r="2.2" fill="#1a3a36" opacity="0.57"/><circle cx="836.5" cy="696.4" r="2.1" fill="#1a3a36" opacity="0.78"/><circle cx="915.2" cy="733.5" r="2.6" fill="#24443c" opacity="0.40"/><circle cx="709.1" cy="686.0" r="2.9" fill="#1a3a36" opacity="0.73"/><circle cx="712.8" cy="710.3" r="3.9" fill="#2a4a42" opacity="0.73"/><circle cx="805.2" cy="675.3" r="4.2" fill="#30524a" opacity="0.71"/><circle cx="908.7" cy="690.5" r="2.7" fill="#2a4a42" opacity="0.68"/><circle cx="589.7" cy="669.8" r="2.0" fill="#30524a" opacity="0.71"/><circle cx="912.2" cy="710.6" r="2.6" fill="#1a3a36" opacity="0.60"/><circle cx="811.1" cy="667.9" r="3.7" fill="#24443c" opacity="0.55"/><circle cx="869.0" cy="723.6" r="2.1" fill="#0c2426" opacity="0.45"/><circle cx="854.0" cy="664.7" r="3.7" fill="#30524a" opacity="0.65"/><circle cx="846.4" cy="699.8" r="4.0" fill="#1a3a36" opacity="0.41"/><circle cx="869.4" cy="719.8" r="3.3" fill="#24443c" opacity="0.43"/><circle cx="743.5" cy="685.1" r="3.1" fill="#1a3a36" opacity="0.57"/><circle cx="544.6" cy="674.7" r="1.6" fill="#2a4a42" opacity="0.58"/><circle cx="885.2" cy="694.1" r="3.3" fill="#1a3a36" opacity="0.62"/><circle cx="601.4" cy="681.3" r="3.0" fill="#30524a" opacity="0.58"/><circle cx="889.3" cy="728.7" r="2.1" fill="#30524a" opacity="0.41"/><circle cx="550.9" cy="678.5" r="1.7" fill="#0c2426" opacity="0.70"/><circle cx="879.0" cy="671.9" r="3.6" fill="#0c2426" opacity="0.41"/><circle cx="916.0" cy="724.1" r="2.0" fill="#30524a" opacity="0.80"/><circle cx="682.7" cy="692.4" r="2.6" fill="#2a4a42" opacity="0.67"/><circle cx="697.3" cy="661.4" r="2.5" fill="#1a3a36" opacity="0.48"/><circle cx="904.4" cy="668.7" r="4.3" fill="#24443c" opacity="0.79"/><circle cx="563.7" cy="680.4" r="1.6" fill="#24443c" opacity="0.47"/><circle cx="884.7" cy="723.1" r="2.3" fill="#24443c" opacity="0.59"/><circle cx="726.9" cy="698.1" r="2.5" fill="#0c2426" opacity="0.38"/><circle cx="795.9" cy="692.7" r="1.7" fill="#2a4a42" opacity="0.64"/><circle cx="841.0" cy="666.4" r="4.1" fill="#2a4a42" opacity="0.47"/><circle cx="570.4" cy="660.9" r="4.5" fill="#30524a" opacity="0.77"/><circle cx="628.6" cy="670.0" r="3.1" fill="#24443c" opacity="0.77"/><circle cx="907.7" cy="680.2" r="2.0" fill="#0c2426" opacity="0.63"/><circle cx="733.4" cy="675.9" r="2.8" fill="#24443c" opacity="0.47"/><circle cx="536.7" cy="661.4" r="3.0" fill="#24443c" opacity="0.58"/><circle cx="784.0" cy="710.1" r="3.5" fill="#1a3a36" opacity="0.73"/><circle cx="803.3" cy="709.0" r="2.7" fill="#0c2426" opacity="0.79"/><circle cx="855.1" cy="661.1" r="3.4" fill="#0c2426" opacity="0.54"/><circle cx="908.4" cy="706.1" r="3.6" fill="#2a4a42" opacity="0.56"/><circle cx="909.1" cy="702.1" r="2.2" fill="#0c2426" opacity="0.45"/><circle cx="555.4" cy="681.5" r="3.5" fill="#24443c" opacity="0.58"/><circle cx="524.0" cy="680.3" r="1.8" fill="#30524a" opacity="0.61"/><circle cx="678.8" cy="683.1" r="3.4" fill="#2a4a42" opacity="0.61"/><circle cx="783.7" cy="715.1" r="4.1" fill="#30524a" opacity="0.69"/><circle cx="808.8" cy="698.1" r="2.4" fill="#1a3a36" opacity="0.64"/><circle cx="877.0" cy="708.3" r="3.7" fill="#1a3a36" opacity="0.41"/><circle cx="730.5" cy="698.8" r="4.0" fill="#2a4a42" opacity="0.72"/><circle cx="793.8" cy="713.4" r="2.2" fill="#2a4a42" opacity="0.37"/><circle cx="542.2" cy="661.5" r="3.1" fill="#24443c" opacity="0.57"/><circle cx="819.8" cy="698.7" r="3.1" fill="#1a3a36" opacity="0.38"/><circle cx="815.2" cy="679.4" r="1.7" fill="#0c2426" opacity="0.46"/><circle cx="823.1" cy="677.8" r="3.4" fill="#30524a" opacity="0.57"/><circle cx="794.1" cy="719.1" r="3.4" fill="#24443c" opacity="0.38"/><circle cx="580.7" cy="679.6" r="3.7" fill="#0c2426" opacity="0.63"/><circle cx="561.6" cy="676.8" r="3.0" fill="#1a3a36" opacity="0.48"/><circle cx="917.3" cy="702.3" r="2.4" fill="#2a4a42" opacity="0.77"/><circle cx="700.9" cy="680.7" r="2.1" fill="#24443c" opacity="0.38"/><circle cx="762.1" cy="708.6" r="2.3" fill="#2a4a42" opacity="0.67"/><circle cx="715.5" cy="661.9" r="1.5" fill="#30524a" opacity="0.66"/><circle cx="687.6" cy="689.0" r="1.9" fill="#0c2426" opacity="0.35"/><circle cx="820.8" cy="724.6" r="1.9" fill="#24443c" opacity="0.67"/><circle cx="880.8" cy="682.3" r="2.6" fill="#30524a" opacity="0.53"/><circle cx="868.2" cy="665.9" r="4.3" fill="#0c2426" opacity="0.73"/><circle cx="633.7" cy="664.0" r="3.5" fill="#24443c" opacity="0.46"/><circle cx="902.6" cy="728.1" r="3.9" fill="#30524a" opacity="0.76"/><circle cx="896.4" cy="702.3" r="3.7" fill="#2a4a42" opacity="0.77"/><circle cx="740.9" cy="673.1" r="2.7" fill="#0c2426" opacity="0.48"/><circle cx="679.0" cy="672.9" r="2.0" fill="#24443c" opacity="0.58"/><circle cx="845.1" cy="702.4" r="2.9" fill="#0c2426" opacity="0.80"/><circle cx="701.1" cy="670.7" r="2.1" fill="#2a4a42" opacity="0.43"/><circle cx="743.2" cy="684.6" r="2.6" fill="#1a3a36" opacity="0.44"/><circle cx="605.6" cy="680.8" r="3.8" fill="#30524a" opacity="0.47"/><circle cx="907.1" cy="669.7" r="3.0" fill="#24443c" opacity="0.39"/><circle cx="878.9" cy="689.6" r="3.4" fill="#30524a" opacity="0.78"/><circle cx="859.8" cy="727.2" r="1.6" fill="#2a4a42" opacity="0.54"/><circle cx="825.9" cy="721.9" r="4.4" fill="#30524a" opacity="0.35"/><circle cx="850.6" cy="725.9" r="4.4" fill="#24443c" opacity="0.70"/><circle cx="611.1" cy="671.7" r="4.4" fill="#2a4a42" opacity="0.77"/><circle cx="809.3" cy="709.8" r="3.8" fill="#30524a" opacity="0.39"/><circle cx="831.2" cy="660.1" r="1.9" fill="#1a3a36" opacity="0.76"/><circle cx="778.9" cy="683.4" r="1.9" fill="#0c2426" opacity="0.59"/><circle cx="897.5" cy="674.8" r="2.3" fill="#1a3a36" opacity="0.35"/><circle cx="632.9" cy="684.4" r="4.0" fill="#24443c" opacity="0.56"/><circle cx="615.4" cy="679.0" r="4.4" fill="#0c2426" opacity="0.37"/><circle cx="779.6" cy="666.2" r="2.2" fill="#30524a" opacity="0.77"/><circle cx="612.3" cy="662.6" r="2.5" fill="#30524a" opacity="0.51"/><circle cx="679.8" cy="660.5" r="2.4" fill="#1a3a36" opacity="0.38"/><circle cx="719.3" cy="675.4" r="3.8" fill="#24443c" opacity="0.45"/><circle cx="719.3" cy="674.4" r="2.2" fill="#30524a" opacity="0.76"/><circle cx="888.9" cy="664.2" r="1.6" fill="#1a3a36" opacity="0.41"/><circle cx="542.6" cy="664.6" r="2.7" fill="#0c2426" opacity="0.68"/><circle cx="919.0" cy="731.7" r="2.5" fill="#24443c" opacity="0.64"/><circle cx="730.9" cy="696.0" r="2.4" fill="#30524a" opacity="0.73"/><circle cx="914.0" cy="694.1" r="1.8" fill="#2a4a42" opacity="0.48"/><circle cx="849.0" cy="723.3" r="2.8" fill="#2a4a42" opacity="0.67"/><circle cx="699.6" cy="684.9" r="3.7" fill="#30524a" opacity="0.36"/><circle cx="827.1" cy="663.1" r="1.6" fill="#2a4a42" opacity="0.71"/><circle cx="546.7" cy="675.0" r="1.7" fill="#1a3a36" opacity="0.50"/><circle cx="767.6" cy="680.2" r="3.6" fill="#0c2426" opacity="0.77"/><circle cx="898.7" cy="665.0" r="4.0" fill="#2a4a42" opacity="0.56"/><circle cx="675.8" cy="679.3" r="2.8" fill="#30524a" opacity="0.41"/><circle cx="719.6" cy="660.7" r="4.3" fill="#0c2426" opacity="0.72"/><circle cx="829.6" cy="706.8" r="2.5" fill="#0c2426" opacity="0.56"/><circle cx="834.0" cy="705.9" r="3.0" fill="#30524a" opacity="0.69"/><circle cx="620.4" cy="665.0" r="1.6" fill="#1a3a36" opacity="0.60"/><circle cx="563.9" cy="665.6" r="3.4" fill="#24443c" opacity="0.39"/><circle cx="720.4" cy="714.7" r="2.8" fill="#24443c" opacity="0.41"/><circle cx="830.0" cy="718.5" r="3.8" fill="#0c2426" opacity="0.48"/><circle cx="747.6" cy="688.7" r="3.7" fill="#24443c" opacity="0.55"/><circle cx="595.9" cy="678.1" r="2.3" fill="#1a3a36" opacity="0.43"/><circle cx="547.8" cy="679.4" r="2.2" fill="#1a3a36" opacity="0.45"/><circle cx="843.8" cy="710.3" r="4.5" fill="#2a4a42" opacity="0.35"/><circle cx="873.4" cy="677.8" r="2.8" fill="#0c2426" opacity="0.37"/><circle cx="638.9" cy="669.2" r="2.1" fill="#1a3a36" opacity="0.44"/><circle cx="830.4" cy="711.2" r="1.5" fill="#1a3a36" opacity="0.67"/><circle cx="661.2" cy="662.9" r="2.5" fill="#2a4a42" opacity="0.44"/><circle cx="781.4" cy="675.7" r="1.5" fill="#0c2426" opacity="0.53"/><circle cx="553.0" cy="662.4" r="3.0" fill="#30524a" opacity="0.38"/><circle cx="741.0" cy="709.2" r="1.8" fill="#24443c" opacity="0.53"/><circle cx="787.8" cy="692.2" r="1.7" fill="#1a3a36" opacity="0.75"/><circle cx="686.8" cy="661.4" r="3.8" fill="#0c2426" opacity="0.64"/><circle cx="896.9" cy="693.4" r="2.0" fill="#2a4a42" opacity="0.72"/><circle cx="705.4" cy="672.5" r="1.5" fill="#1a3a36" opacity="0.41"/><circle cx="843.0" cy="690.5" r="3.2" fill="#0c2426" opacity="0.68"/><circle cx="586.4" cy="673.2" r="1.7" fill="#30524a" opacity="0.57"/><circle cx="600.5" cy="669.8" r="4.3" fill="#30524a" opacity="0.49"/></g>
  <!-- sandy path -->
  <polygon points="664,707 672,701 684,700 698,706 708,712 690,712" fill="#6f766a" opacity="0.8"/>
  <!-- rock -->
  <polygon points="486,684 490,679 496,674 502,671 508,675 516,680 520,685" fill="#2a423e"/>
  <!-- shoreline strip -->
  <polygon points="516,683 560,683 600,684 640,687 682,691 684,694 640,690 600,687 560,686 516,686" fill="#6c7d74" opacity="0.75"/>
  <!-- land / dock -->
  <polygon points="555,727 594,720 627,713 661,709 679,712 709,716 739,718 772,724 821,727 857,730 920,737 920,741 857,735 821,732 772,729 739,729 705,729 674,731 640,734 605,732 562,733" fill="#a39d88"/>
  <polygon points="630,713 661,709.5 685,712 700,716 680,718 640,718" fill="#c2b29a" opacity="0.9"/>
  <polygon points="600,724 640,720 680,720 700,722 690,727 650,729 610,729" fill="#8f8a78" opacity="0.6"/>
  <polygon points="560,732 603,731 603,740 566,741" fill="#2e3e3a" opacity="0.85"/>
  <polygon points="562,733 605,732 640,734 674,731 705,729 739,729 772,729 821,732 857,735 920,741 920,748 860,746 800,743 740,739 700,737 660,738 620,740 580,741 562,740" fill="#223f3c" opacity="0.9"/>
  <rect x="554" y="727" width="3" height="11" fill="#3a4a44"/>
  <!-- boats left -->
  <polygon points="98,727 103,722 118,721.5 126,725 131,729 128,733 100,733" fill="#e4e9e7"/>
  <rect x="103" y="725" width="20" height="2" fill="#5a6e6c"/>
  <rect x="100" y="731" width="28" height="2.5" fill="#2f5050"/>
  <polygon points="328,768 346,766 396,766 404,772 410,778 404,782 346,781 334,773" fill="#eef1ef"/>
  <polygon points="346,766 353,760 364,757 378,757 390,762 396,766" fill="#f4f6f4"/>
  <rect x="365" y="752.5" width="2" height="5" fill="#e8ecea"/>
  <rect x="350" y="769" width="44" height="2" fill="#45605e"/>
  <rect x="355" y="762" width="30" height="1.6" fill="#4e6866"/>
  <polygon points="346,781 404,782 398,785 352,784" fill="#2a4a4a" opacity="0.8"/>
  <path d="M189,684 Q215,680 246,679" stroke="#e8eeee" stroke-width="1.6" fill="none"/>
  <circle cx="244" cy="667" r="2.2" fill="#d85040"/>
  <path d="M271,781 Q215,779 172,774 Q156,770 163,765 Q172,761 190,760" stroke="#e7eeec" stroke-width="2" fill="none" opacity="0.9"/>
  <circle cx="271" cy="781" r="1.6" fill="#203030"/>
  <g fill="#e8eeee"><circle cx="315" cy="777" r="1.2"/><circle cx="430" cy="755" r="1.2"/><circle cx="474" cy="770" r="1.2"/><circle cx="496" cy="786" r="1.2"/><circle cx="518" cy="787" r="1.2"/><circle cx="432" cy="788" r="1.2"/></g>
  <!-- boats right -->
  <polygon points="603,738 609,735.5 634,736 637.6,740 637.6,746 603,746" fill="#e4e7e3"/><rect x="603" y="742.5" width="34.6" height="3.5" fill="#1c3636"/><rect x="608" y="738.5" width="24" height="1.3" fill="#5a6e6c"/>
  <polygon points="704,735.2 705.8,733.4 712.4,733.4 716,735.4 715.0,737 704.7,737" fill="#e8ebe8"/>
  <polygon points="705,730.3 708.5,727.6 721.1,727.6 728,730.6 726.2,733 706.4,733" fill="#f0f0ee"/>
  <line x1="523" y1="731" x2="523" y2="749" stroke="#d0d6d2" stroke-width="0.7"/><polygon points="518,752.2 520.1,750.4 527.8,750.4 532,752.4 530.9,754 518.8,754" fill="#ecefed"/>
  <line x1="559.6" y1="744" x2="559.6" y2="770" stroke="#d0d6d2" stroke-width="0.7"/><polygon points="548,771 585,770 581,775 552,775" fill="#3a2e2c"/>
  <polygon points="527.5,782.0 532.7,779.0 551.6,779.0 562,782.3 559.2,785 529.6,785" fill="#eef0ee"/><rect x="530.3" y="783.2" width="29.0" height="1.8" fill="#5a6a6a"/>
  <polygon points="644.5,775.7 648.8,772.4 664.7,772.4 673.4,776.0 671.1,779 646.2,779" fill="#e8ebe8"/><rect x="646.8" y="777.0" width="24.3" height="2.0" fill="#3a2a2a"/>
  <line x1="624" y1="757.5" x2="624" y2="788" stroke="#d0d6d2" stroke-width="0.7"/><polygon points="612,792.3 615.8,789.6 629.9,789.6 637.6,792.6 635.6,795 613.5,795" fill="#e6eae8"/><rect x="614.0" y="793.4" width="21.5" height="1.6" fill="#4a5656"/>
  <polygon points="715.6,789.9 719.5,787.8 733.9,787.8 741.7,790.1 739.6,792 717.2,792" fill="#eef0ee"/>
  <line x1="750" y1="762" x2="750" y2="774" stroke="#d0d6d2" stroke-width="0.7"/><polygon points="741,776.9 744.1,774.8 755.7,774.8 762,777.1 760.3,779 742.3,779" fill="#ecefed"/>
  <polygon points="729,760.6 731.4,759.3 740.2,759.3 745,760.8 743.7,762 730.0,762" fill="#dfe5e2"/>
  <polygon points="731.6,754.0 735.4,752.6 749.4,752.6 757,754.2 755.0,755.5 733.1,755.5" fill="#dfe5e2"/>
  <polygon points="802.8,776.0 805.5,775.0 815.5,775.0 821,776.1 819.5,777 803.9,777" fill="#d8dedb"/>
  <polygon points="837,781.7 841.5,778.4 858.0,778.4 867,782.0 864.6,785 838.8,785" fill="#eef0ee"/><rect x="839.4" y="783.0" width="25.2" height="2.0" fill="#6a7a7a"/>
  <polygon points="802.8,788.8 804.9,787.6 812.4,787.6 816.5,788.9 815.4,790 803.6,790" fill="#8a3a34"/>
  <polygon points="828,790.3 829.7,787.6 836.0,787.6 839.5,790.6 838.6,793 828.7,793" fill="#e8ecea"/>
  <polygon points="821,748.8 823.1,747.6 830.8,747.6 835,748.9 833.9,750 821.8,750" fill="#d8dedb"/>
  <polygon points="839.5,762.3 842.9,759.6 855.5,759.6 862.4,762.6 860.6,765 840.9,765" fill="#e4e8e6"/><rect x="841.3" y="763.4" width="19.2" height="1.6" fill="#6a7a7a"/>
  <polygon points="899,753.0 901.4,752.0 910.2,752.0 915,753.1 913.7,754 900.0,754" fill="#d8dedb"/>
  <polygon points="776,743.4 778.2,742.4 786.5,742.4 791,743.6 789.8,744.5 776.9,744.5" fill="#ccd5d2"/>
  <polygon points="780,748.4 782.2,747.4 790.5,747.4 795,748.6 793.8,749.5 780.9,749.5" fill="#ccd5d2"/>
  <polygon points="784,753.4 786.2,752.4 794.5,752.4 799,753.6 797.8,754.5 784.9,754.5" fill="#ccd5d2"/>
  <polygon points="788,758.4 790.2,757.4 798.5,757.4 803,758.6 801.8,759.5 788.9,759.5" fill="#ccd5d2"/>
  <polygon points="760,744.4 762.2,743.4 770.5,743.4 775,744.6 773.8,745.5 760.9,745.5" fill="#ccd5d2"/>
  <polygon points="746,748.4 748.2,747.4 756.5,747.4 761,748.6 759.8,749.5 746.9,749.5" fill="#ccd5d2"/>
  <g fill="#e8eeee"><circle cx="520" cy="760" r="1"/><circle cx="532" cy="770" r="1"/><circle cx="575" cy="757" r="1"/><circle cx="590" cy="790" r="1"/><circle cx="600" cy="770" r="1"/><circle cx="655" cy="760" r="1"/><circle cx="690" cy="760" r="1"/><circle cx="700" cy="790" r="1"/><circle cx="760" cy="790" r="1"/><circle cx="700" cy="770" r="1"/><circle cx="790" cy="790" r="1"/><circle cx="850" cy="795" r="1"/><circle cx="880" cy="770" r="1"/></g>
  <path d="M884,796 Q886,784 894,778 Q902,773 912,776 Q920,780 922,786 L922,796 Z" fill="#3a4a40" opacity="0.5" filter="url(#blur2)"/>
</svg>
</body></html>
